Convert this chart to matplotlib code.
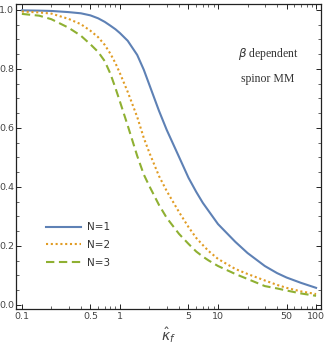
import matplotlib
matplotlib.use("Agg")
import matplotlib.pyplot as plt
from matplotlib.ticker import FixedLocator, NullFormatter

# values
kappa = [0.1, 0.15, 0.2, 0.3, 0.4, 0.5, 0.6, 0.7, 0.8, 0.9, 1, 1.2, 1.5, 1.75,
         2, 2.5, 3, 4, 5, 6, 7, 8, 10, 15, 20, 30, 40, 50, 70, 100]
n1 = [0.998, 0.997, 0.996, 0.992, 0.988, 0.981, 0.971, 0.959, 0.946, 0.934,
      0.921, 0.895, 0.847, 0.797, 0.745, 0.658, 0.593, 0.502, 0.431, 0.383,
      0.346, 0.319, 0.274, 0.214, 0.176, 0.132, 0.108, 0.093, 0.075, 0.058]
n2 = [0.994, 0.991, 0.987, 0.969, 0.951, 0.929, 0.907, 0.881, 0.851, 0.819,
      0.785, 0.722, 0.637, 0.566, 0.515, 0.437, 0.386, 0.315, 0.264, 0.227,
      0.203, 0.183, 0.156, 0.122, 0.105, 0.083, 0.068, 0.058, 0.046, 0.037]
n3 = [0.986, 0.980, 0.968, 0.939, 0.912, 0.883, 0.857, 0.826, 0.783, 0.735,
      0.689, 0.608, 0.505, 0.442, 0.402, 0.339, 0.295, 0.241, 0.207, 0.181,
      0.164, 0.151, 0.132, 0.105, 0.088, 0.064, 0.056, 0.049, 0.039, 0.031]
labels = ["N=1", "N=2", "N=3"]

xticks = [0.1, 0.5, 1, 5, 10, 50, 100]
xticklabels = ["0.1", "0.5", "1", "5", "10", "50", "100"]
yticks = [0.0, 0.2, 0.4, 0.6, 0.8, 1.0]

fig = plt.figure(figsize=(3.24, 3.46), dpi=100)
ax = fig.add_axes([0.049, 0.107, 0.942, 0.881])

ax.plot(kappa, n1, color="#5E81B5", lw=1.5, ls="-", label=labels[0])
ax.plot(kappa, n2, color="#E19C24", lw=1.5, ls=(0, (1, 1.3)), label=labels[1])
ax.plot(kappa, n3, color="#8FB032", lw=1.5, ls=(0, (4, 2.2)), label=labels[2])

ax.set_xscale("log")
ax.set_xlim(0.0869, 112.5)
ax.set_ylim(-0.0136, 1.019)

ax.xaxis.set_major_locator(FixedLocator(xticks))
ax.set_xticklabels(xticklabels)
minor_x = [m * 10 ** e for e in (-1, 0, 1) for m in range(2, 10)]
ax.xaxis.set_minor_locator(FixedLocator([v for v in minor_x if v not in xticks]))
ax.xaxis.set_minor_formatter(NullFormatter())
ax.set_yticks(yticks)
ax.set_yticklabels(["0.0", "0.2", "0.4", "0.6", "0.8", "1.0"])
ax.yaxis.set_minor_locator(FixedLocator([i * 0.05 for i in range(21)]))

ax.tick_params(which="both", direction="in", top=True, right=True,
               labelsize=6.8, labelcolor="#444444", color="#222222")
ax.tick_params(axis="x", pad=2)
ax.tick_params(axis="y", pad=1.2)
ax.tick_params(which="major", length=3.5, width=0.7)
ax.tick_params(which="minor", length=2, width=0.5)
for s in ax.spines.values():
    s.set_linewidth(0.9)
    s.set_color("#222222")

ax.set_xlabel(r"$\hat{\kappa}_f$", fontsize=10, color="#444444", labelpad=3)

ax.text(0.826, 0.836, r"$\beta$ dependent", transform=ax.transAxes,
        ha="center", va="center", fontsize=8.5, family="Liberation Serif",
        color="#333333")
ax.text(0.826, 0.754, "spinor MM", transform=ax.transAxes,
        ha="center", va="center", fontsize=8.5, family="Liberation Serif",
        color="#333333")

ax.legend(loc="center left", bbox_to_anchor=(0.098, 0.21), frameon=False,
          fontsize=7.5, handlelength=3.4, handletextpad=0.6, labelspacing=0.75,
          borderpad=0, borderaxespad=0, labelcolor="#333333")

fig.savefig("out.png", dpi=100)
